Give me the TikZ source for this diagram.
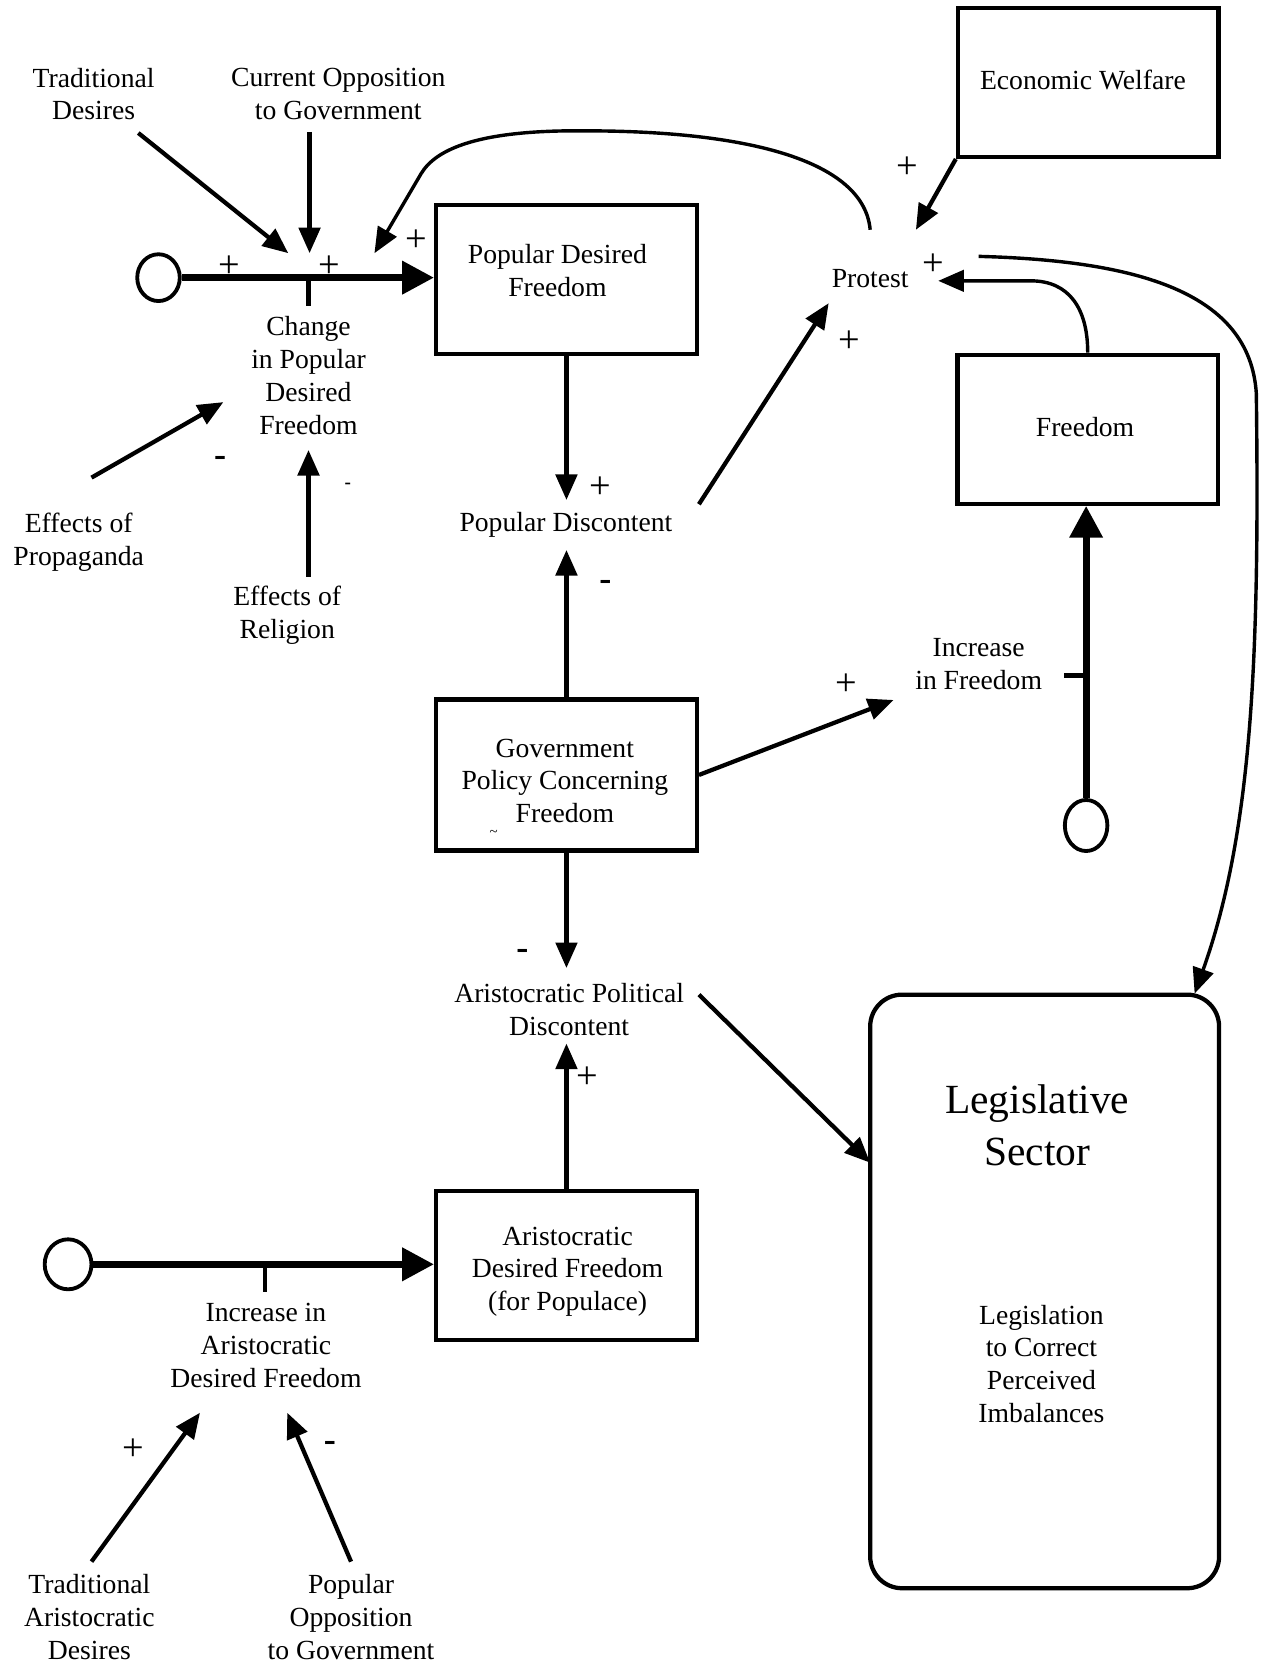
\documentclass[tikz,border=0pt]{standalone}
\usepackage{fontspec}
\setmainfont{Liberation Serif}
\usetikzlibrary{arrows.meta,shapes.geometric}
\begin{document}
\begin{tikzpicture}[x=0.5pt,y=-0.5pt,
  lbl/.style={inner sep=0pt,align=center,font=\fontsize{13}{15.4}\selectfont},
  bigl/.style={inner sep=0pt,align=center,font=\fontsize{19.5}{24.5}\selectfont},
  sgn/.style={inner sep=0pt,font=\fontsize{18}{18}\selectfont},
  msgn/.style={inner sep=0pt,font=\fontsize{17}{17}\selectfont\bfseries},
  stockbox/.style={draw,line width=2pt,minimum width=122.5pt,minimum height=70pt,inner sep=0pt},
  srcc/.style={draw,ellipse,line width=1.8pt,minimum width=20pt,minimum height=22pt,inner sep=0pt},
  linkarr/.style={line width=2pt,-{Triangle[length=12pt,width=10pt]}},
  curvearr/.style={line width=1.6pt,-{Triangle[length=12pt,width=10pt]}},
  flowarr/.style={line width=3.4pt,-{Triangle[length=15pt,width=15pt]}},
  valvetick/.style={line width=2pt},
]
\fill[white] (0,0) rectangle (1186,1568);
\useasboundingbox (0,0) rectangle (1186,1568);

% ---------- stocks ----------
\node[stockbox] (pdf) at (532.5,262.5) {};
\node[lbl] (pdfl) at (524,254.5) {Popular Desired\\Freedom};
\node[stockbox] (ew) at (1023,77.5) {};
\node[lbl] (ewl) at (1018,75) {Economic Welfare};
\node[stockbox] (fr) at (1022.5,403.5) {};
\node[lbl] (frl) at (1020,401) {Freedom};
\node[stockbox,minimum height=71pt] (gov) at (532.5,728.5) {};
\node[lbl] (govl) at (531,734) {Government\\Policy Concerning\\Freedom};
\node[inner sep=0pt,font=\fontsize{7}{7}\selectfont] (govm) at (464,783) {\textasciitilde};
\node[stockbox] (adf) at (532.5,1189.5) {};
\node[lbl] (adfl) at (533.5,1195.5) {Aristocratic\\Desired Freedom\\(for Populace)};
\node[draw,line width=2pt,rounded corners=15pt,minimum width=164pt,minimum height=279pt,inner sep=0pt] (leg) at (982,1214) {};
\node[bigl] (legt) at (975,1058) {Legislative\\Sector};
\node[lbl] (legs) at (979,1282) {Legislation\\to Correct\\Perceived\\Imbalances};

% ---------- flow into Popular Desired Freedom ----------
\node[srcc] (c1) at (149,261) {};
\draw[flowarr] (c1.east) -- (c1.east -| pdf.west);
\coordinate (v1) at (290,261);
\draw[valvetick] (v1) -- ++(0,27);
\node[lbl] (chg) at (290,353) {Change\\in Popular\\Desired\\Freedom};
\node[lbl] (td) at (88,88.5) {Traditional\\Desires};
\node[lbl] (cog) at (318,88.5) {Current Opposition\\to Government};
\node[lbl] (prop) at (74,510) {Effects of\\Propaganda};
\node[lbl] (rel) at (270,578) {Effects of\\Religion};

\coordinate (td-o) at (130,125);  \coordinate (chg-i1) at (271,238);
\coordinate (cog-o) at (291,124); \coordinate (chg-i2) at (291,238);
\coordinate (chg-i3) at (352,238);
\coordinate (prop-o) at (86,449); \coordinate (chg-i4) at (210,378);
\coordinate (rel-o) at (290,542);  \coordinate (chg-i5) at (290,423);
\draw[linkarr] (td-o) -- (chg-i1);
\draw[linkarr] (cog-o) -- (chg-i2);
\draw[linkarr] (prop-o) -- (chg-i4);
\draw[linkarr] (rel-o) -- (chg-i5);

\node[sgn] (s1) at (216,251) {+};
\node[sgn] (s2) at (310,251) {+};
\node[sgn] (s3) at (391,226) {+};
\node[msgn] (s4) at (207,434) {-};
\node[inner sep=0pt,font=\fontsize{9}{9}\selectfont\bfseries] (s5) at (327,457) {-};

% ---------- protest ----------
\node[lbl] (pro) at (818,262) {Protest};
\node[lbl] (pd) at (532,493) {Popular Discontent};
\coordinate (pro-top) at (818,216);
\coordinate (pro-i1) at (861,216);
\coordinate (pro-i2) at (882,264);
\coordinate (pro-i3) at (779,285);
\coordinate (pro-o) at (920,241);
\coordinate (pd-o) at (657,474);
\coordinate (pd-i1) at (532.5,470);
\coordinate (pd-i2) at (532.5,517);

\draw[curvearr] (pro-top) .. controls (812,150) and (700,123) .. (550,123)
  .. controls (450,122) and (410,140) .. (396,163) -- (chg-i3);
\draw[linkarr] (ew.south west) -- (pro-i1);
\draw[curvearr] (fr.north) .. controls (1022.5,290) and (1005,264) .. (969,264) -- (pro-i2);
\draw[linkarr] (pd-o) -- (pro-i3);
\draw[linkarr] (pdf.south) -- (pd-i1);
\draw[linkarr] (gov.north) -- (pd-i2);

\coordinate (leg-i1) at (1123,934);
\draw[curvearr] (pro-o) .. controls (1070,245) and (1175,275) .. (1181,370)
  .. controls (1184,610) and (1178,780) .. (leg-i1);

\node[sgn] (s6) at (853,158) {+};
\node[sgn] (s7) at (877,249) {+};
\node[sgn] (s8) at (798,321) {+};
\node[sgn] (s9) at (564,458) {+};
\node[msgn] (s10) at (569,550) {-};

% ---------- freedom ----------
\node[srcc,minimum height=24pt] (c3) at (1021,776) {};
\draw[flowarr] (c3.north) -- (c3.north |- fr.south);
\coordinate (v3) at (1021,635);
\draw[valvetick] (v3) -- ++(-21,0);
\node[lbl] (incf) at (920,624.5) {Increase\\in Freedom};
\coordinate (incf-i) at (840,658);
\draw[linkarr] (gov.east) -- (incf-i);
\node[sgn] (s11) at (796,644) {+};

% ---------- aristocracy ----------
\node[lbl] (apd) at (535,949) {Aristocratic Political\\Discontent};
\coordinate (apd-i1) at (532.5,910);
\coordinate (apd-i2) at (532.5,981);
\coordinate (apd-o) at (657,935);
\coordinate (leg-i2) at (818,1093);
\draw[linkarr] (gov.south) -- (apd-i1);
\draw[linkarr] (adf.north) -- (apd-i2);
\draw[linkarr] (apd-o) -- (leg-i2);
\node[msgn] (s12) at (491,897) {-};
\node[sgn] (s13) at (552,1013) {+};

\node[srcc,minimum width=22pt,minimum height=23.5pt] (c2) at (64,1188.5) {};
\draw[flowarr] (c2.east) -- (c2.east -| adf.west);
\coordinate (v2) at (249,1188.5);
\draw[valvetick] (v2) -- ++(0,26);
\node[lbl] (iad) at (250,1265) {Increase in\\Aristocratic\\Desired Freedom};
\node[lbl] (tad) at (84,1520) {Traditional\\Aristocratic\\Desires};
\node[lbl] (pog) at (330,1520) {Popular\\Opposition\\to Government};
\coordinate (tad-o) at (86,1468); \coordinate (iad-i1) at (188,1328);
\coordinate (pog-o) at (330,1468); \coordinate (iad-i2) at (270,1328);
\draw[linkarr] (tad-o) -- (iad-i1);
\draw[linkarr] (pog-o) -- (iad-i2);
\node[sgn] (s14) at (125,1363) {+};
\node[msgn] (s15) at (310,1360) {-};
\end{tikzpicture}
\end{document}
